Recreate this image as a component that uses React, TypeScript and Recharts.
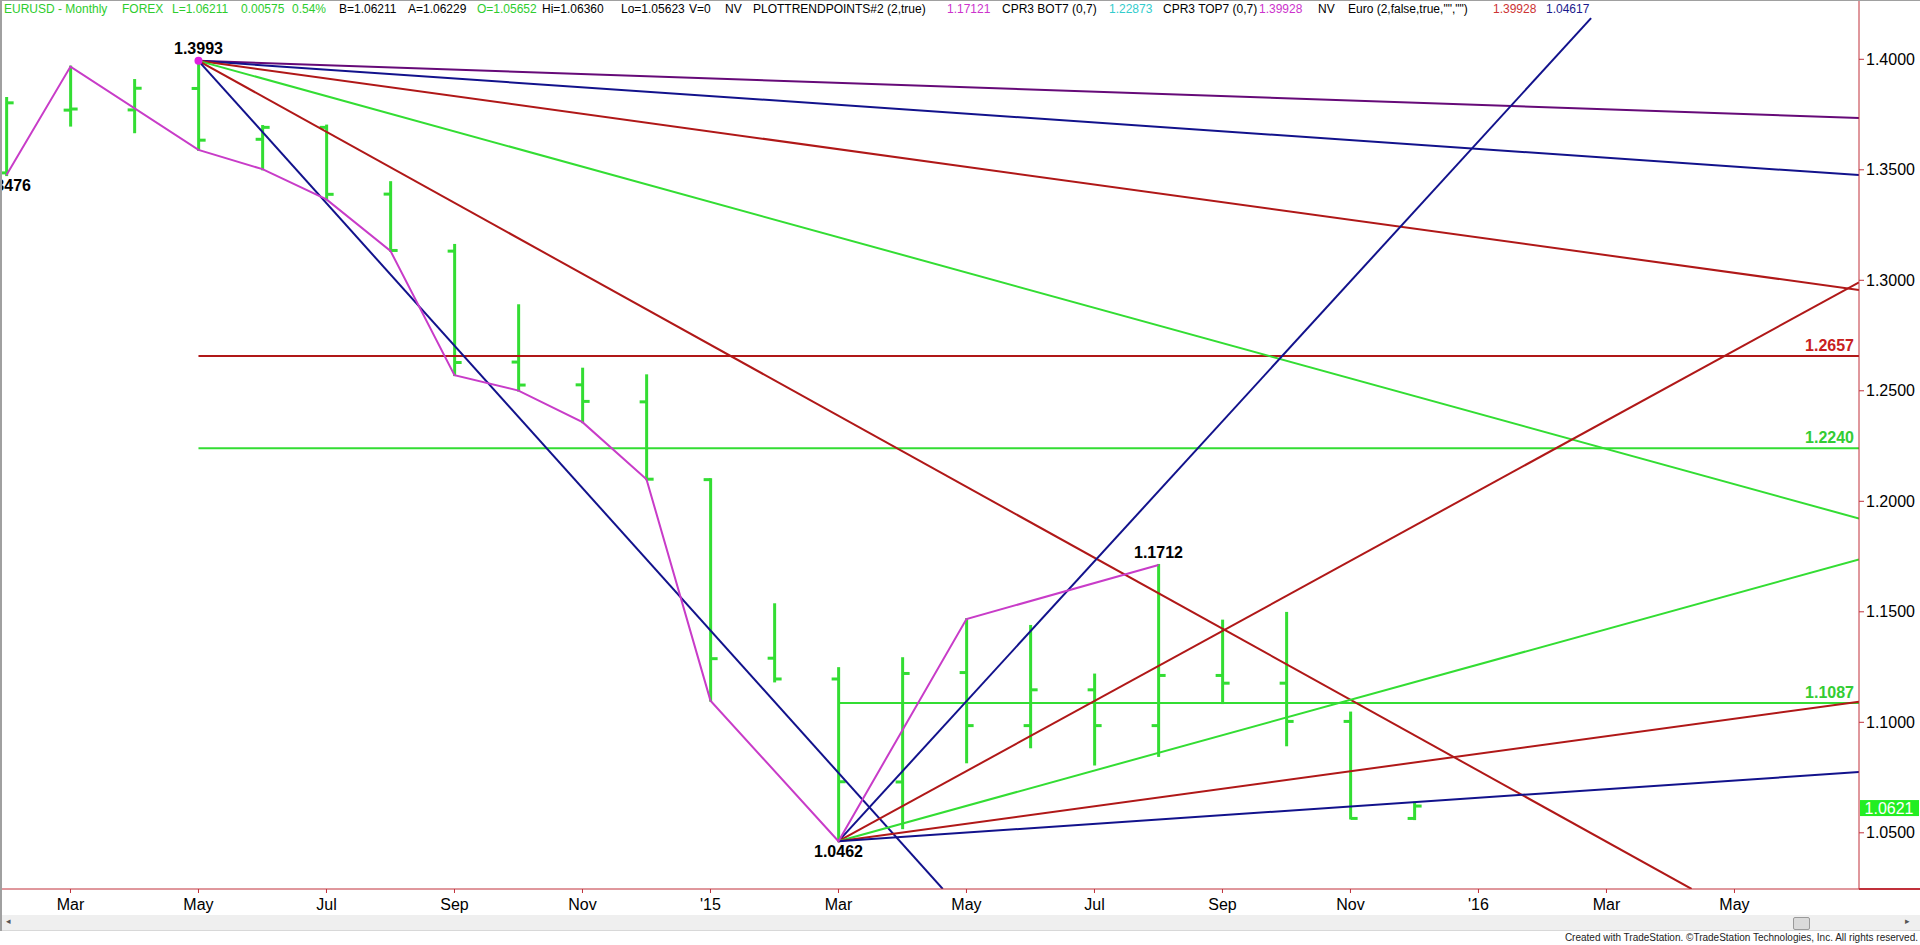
import React from 'react';
import { ComposedChart, Bar, Line, Scatter, XAxis, YAxis, ReferenceLine } from 'recharts';

// month index: 0 = Feb 2014 ... 22 = Dec 2015 (future months run out to ~Jun 2016)
const months = [0, 1, 2, 3, 4, 5, 6, 7, 8, 9, 10, 11, 12, 13, 14, 15, 16, 17, 18, 19, 20, 21, 22];
const opens = [1.3486, 1.3770, 1.3771, 1.3868, 1.3638, 1.3692, 1.3390, 1.3132, 1.2630, 1.2527, 1.2450, 1.2098,
  1.1290, 1.1196, 1.0730, 1.1225, 1.0985, 1.1147, 1.0985, 1.1212, 1.1177, 1.1004, 1.0565];
const highs = [1.3825, 1.3967, 1.3906, 1.3993, 1.3698, 1.3700, 1.3444, 1.3160, 1.2887, 1.2600, 1.2570, 1.2100,
  1.1534, 1.1245, 1.1290, 1.1467, 1.1436, 1.1216, 1.1712, 1.1460, 1.1495, 1.1044, 1.0636];
const lows = [1.3476, 1.3700, 1.3670, 1.3590, 1.3502, 1.3366, 1.3133, 1.2571, 1.2501, 1.2358, 1.2100, 1.1098,
  1.1185, 1.0462, 1.0521, 1.0819, 1.0887, 1.0809, 1.0848, 1.1087, 1.0896, 1.0565, 1.0562];
const closes = [1.3803, 1.3775, 1.3869, 1.3634, 1.3692, 1.3389, 1.3135, 1.2628, 1.2526, 1.2452, 1.2100, 1.1288,
  1.1196, 1.0731, 1.1221, 1.0985, 1.1147, 1.0985, 1.1212, 1.1177, 1.1004, 1.0565, 1.0621];

// swing line (magenta)
const swingX = [0, 1, 3, 4, 5, 6, 7, 8, 9, 10, 11, 13, 15, 18];
const swingV = [1.3476, 1.3967, 1.3590, 1.3503, 1.3366, 1.3133, 1.2571, 1.2501, 1.2358, 1.2100, 1.1098, 1.0462, 1.1467, 1.1712];

// trend line fans
const highAnchor = { x: 3, v: 1.3993 };
const lowAnchor = { x: 13, v: 1.0462 };
const fanHighEnds = [
  { x: 28.946, v: 1.3734 },
  { x: 28.946, v: 1.3476 },
  { x: 28.946, v: 1.2956 },
  { x: 28.946, v: 1.1922 },
  { x: 26.33, v: 1.0246 },
  { x: 14.63, v: 1.0246 },
];
const fanLowEnds = [
  { x: 24.76, v: 1.4186 },
  { x: 28.946, v: 1.2991 },
  { x: 28.946, v: 1.1737 },
  { x: 28.946, v: 1.1093 },
  { x: 28.946, v: 1.0775 },
];

// horizontal levels
const levelValues = [1.2657, 1.2240, 1.1087];
const levelStarts = [3, 3, 13];
const levelEnd = 28.946;

const pivotsAbove = [{ x: 3, v: 1.3993, text: '1.3993' }, { x: 18, v: 1.1712, text: '1.1712' }];
const pivotsBelow = [{ x: 0, v: 1.3476, text: '1.3476' }, { x: 13, v: 1.0462, text: '1.0462' }];
const pivotDot = [{ x: 3, v: 1.3993 }];

const lastPrice = 1.0621;

const xTicks = [1, 3, 5, 7, 9, 11, 13, 15, 17, 19, 21, 23, 25, 27];
const xLabels = ['Mar', 'May', 'Jul', 'Sep', 'Nov', "'15", 'Mar', 'May', 'Jul', 'Sep', 'Nov', "'16", 'Mar', 'May'];
const yTicks = [1.05, 1.1, 1.15, 1.2, 1.25, 1.3, 1.35, 1.4];

const GREEN = '#33DD33';
const RED = '#B01818';
const NAVY = '#12128C';
const PURPLE = '#660A78';
const MAGENTA = '#C83CC8';
const AXIS_RED = '#C0303A';
const FONT = 'Arial, "Liberation Sans", sans-serif';

const fanHighColors = [PURPLE, NAVY, RED, GREEN, RED, NAVY];
const fanLowColors = [NAVY, RED, GREEN, RED, NAVY];
const levelColors = [RED, GREEN, GREEN];
const levelTextColors = ['#C82020', '#33CC33', '#33CC33'];

const bars = months.map((m, i) => ({
  x: m, open: opens[i], high: highs[i], low: lows[i], close: closes[i], range: [lows[i], highs[i]],
}));
const swing = swingX.map((x, i) => ({ x, v: swingV[i] }));

const HEADER: { left: number; text: string; color: string }[] = [
  { left: 4, text: 'EURUSD - Monthly', color: '#2ECC2E' },
  { left: 122, text: 'FOREX', color: '#2ECC2E' },
  { left: 172, text: 'L=1.06211', color: '#2ECC2E' },
  { left: 241, text: '0.00575', color: '#2ECC2E' },
  { left: 292, text: '0.54%', color: '#2ECC2E' },
  { left: 339, text: 'B=1.06211', color: '#000' },
  { left: 408, text: 'A=1.06229', color: '#000' },
  { left: 477, text: 'O=1.05652', color: '#2ECC2E' },
  { left: 542, text: 'Hi=1.06360', color: '#000' },
  { left: 621, text: 'Lo=1.05623', color: '#000' },
  { left: 689, text: 'V=0', color: '#000' },
  { left: 725, text: 'NV', color: '#000' },
  { left: 753, text: 'PLOTTRENDPOINTS#2 (2,true)', color: '#000' },
  { left: 947, text: '1.17121', color: '#CC33CC' },
  { left: 1002, text: 'CPR3 BOT7 (0,7)', color: '#000' },
  { left: 1109, text: '1.22873', color: '#33CCCC' },
  { left: 1163, text: 'CPR3 TOP7 (0,7)', color: '#000' },
  { left: 1259, text: '1.39928', color: '#CC33CC' },
  { left: 1318, text: 'NV', color: '#000' },
  { left: 1348, text: 'Euro (2,false,true,"","")', color: '#000' },
  { left: 1493, text: '1.39928', color: '#CC3333' },
  { left: 1546, text: '1.04617', color: '#1A1A8C' },
];

function OhlcShape(props: any) {
  const { x, y, width, height, payload } = props;
  if (x == null || !payload) return null;
  const cx = x + width / 2;
  const top = Math.min(y, y + height);
  const h = Math.abs(height);
  const span = payload.high - payload.low || 1;
  const yOf = (v: number) => top + ((payload.high - v) / span) * h;
  return (
    <g>
      <line x1={cx} x2={cx} y1={top - 1} y2={top + h + 1} stroke={GREEN} strokeWidth={3} />
      <line x1={cx - 7} x2={cx} y1={yOf(payload.open)} y2={yOf(payload.open)} stroke={GREEN} strokeWidth={3} />
      <line x1={cx} x2={cx + 7} y1={yOf(payload.close)} y2={yOf(payload.close)} stroke={GREEN} strokeWidth={3} />
    </g>
  );
}

function LabelAbove(p: any) {
  return (
    <text x={p.cx} y={p.cy - 7} textAnchor="middle" fontFamily={FONT} fontWeight="bold" fontSize={16} fill="#000">
      {p.payload.text}
    </text>
  );
}

function LabelBelow(p: any) {
  return (
    <text x={p.cx} y={p.cy + 16} textAnchor="middle" fontFamily={FONT} fontWeight="bold" fontSize={16} fill="#000">
      {p.payload.text}
    </text>
  );
}

function PivotDot(p: any) {
  return <circle cx={p.cx} cy={p.cy} r={4} fill="#E020E0" />;
}

function PriceTag(props: any) {
  const vb = props.viewBox;
  if (!vb) return null;
  const x = vb.x + vb.width + 1;
  return (
    <g>
      <rect x={x} y={vb.y - 6} width={59} height={16} fill="#22EE22" />
      <text x={x + 29} y={vb.y + 7.5} textAnchor="middle" fontFamily={FONT} fontSize={16} fill="#fff">
        {lastPrice.toFixed(4)}
      </text>
    </g>
  );
}

function makeLevelLabel(text: string, color: string) {
  return function LevelLabel(props: any) {
    const vb = props.viewBox;
    if (!vb) return null;
    return (
      <text x={vb.x + vb.width - 5} y={vb.y - 5} textAnchor="end" fontFamily={FONT} fontWeight="bold"
        fontSize={16} fill={color}>
        {text}
      </text>
    );
  };
}

export default function App() {
  return (
    <div style={{ position: 'relative', width: 1920, height: 945, overflow: 'hidden', background: '#fff', fontFamily: FONT }}>
      <style>{'body{margin:0;background:#fff}'}</style>

      <ComposedChart width={1920} height={945} data={bars} margin={{ top: 0, right: 0, bottom: 0, left: 2 }}>
        <XAxis
          dataKey="x" type="number" domain={[-0.07, 28.946]} allowDataOverflow ticks={xTicks}
          tickFormatter={(v: number) => xLabels[xTicks.indexOf(v)] ?? ''}
          height={56} stroke={AXIS_RED} tickSize={4} tickMargin={6}
          tick={{ fill: '#000', fontSize: 16, fontFamily: FONT }}
          interval={0}
        />
        <YAxis
          orientation="right" type="number" domain={[1.02457, 1.42683]} allowDataOverflow ticks={yTicks}
          tickFormatter={(v: number) => v.toFixed(4)} width={61} stroke={AXIS_RED} tickSize={5} tickMargin={2}
          tick={{ fill: '#000', fontSize: 16, fontFamily: FONT }}
          interval={0}
        />

        <Bar dataKey="range" barSize={10} shape={<OhlcShape />} isAnimationActive={false} />

        {levelValues.map((v, i) => (
          <Line key={`lv${i}`} data={[{ x: levelStarts[i], v }, { x: levelEnd, v }]} dataKey="v" stroke={levelColors[i]}
            strokeWidth={2} dot={false} isAnimationActive={false} type="linear" />
        ))}

        {fanHighEnds.map((e, i) => (
          <Line key={`fh${i}`} data={[highAnchor, e]} dataKey="v" stroke={fanHighColors[i]} strokeWidth={2}
            dot={false} isAnimationActive={false} type="linear" />
        ))}
        {fanLowEnds.map((e, i) => (
          <Line key={`fl${i}`} data={[lowAnchor, e]} dataKey="v" stroke={fanLowColors[i]} strokeWidth={2}
            dot={false} isAnimationActive={false} type="linear" />
        ))}

        <Line data={swing} dataKey="v" stroke={MAGENTA} strokeWidth={2} dot={false} isAnimationActive={false} type="linear" />

        {levelValues.map((v, i) => (
          <ReferenceLine key={`ll${i}`} segment={[{ x: levelStarts[i], y: v }, { x: levelEnd, y: v }]} stroke="none"
            label={makeLevelLabel(v.toFixed(4), levelTextColors[i])} />
        ))}
        <ReferenceLine y={lastPrice} stroke="none" label={PriceTag} />

        <Scatter data={pivotDot} dataKey="v" shape={<PivotDot />} isAnimationActive={false} />
        <Scatter data={pivotsAbove} dataKey="v" shape={<LabelAbove />} isAnimationActive={false} />
        <Scatter data={pivotsBelow} dataKey="v" shape={<LabelBelow />} isAnimationActive={false} />
      </ComposedChart>

      {/* header */}
      {HEADER.map((h) => (
        <span key={h.left} style={{ position: 'absolute', left: h.left, top: 2, fontSize: 12, lineHeight: '15px',
          color: h.color, whiteSpace: 'nowrap' }}>
          {h.text}
        </span>
      ))}

      {/* frame bits */}
      <div style={{ position: 'absolute', left: 0, top: 0, width: 1920, height: 1, background: '#A0A0A0' }} />
      <div style={{ position: 'absolute', left: 0, top: 0, width: 2, height: 931, background: '#A0A0A0' }} />
      <div style={{ position: 'absolute', left: 1859, top: 888, width: 61, height: 2, background: AXIS_RED }} />

      {/* scrollbar */}
      <div style={{ position: 'absolute', left: 2, top: 915, width: 1918, height: 15, background: '#EFEFEF',
        borderBottom: '1px solid #D8D8D8' }} />
      <div style={{ position: 'absolute', left: 6, top: 916, fontSize: 9, color: '#555' }}>◂</div>
      <div style={{ position: 'absolute', left: 1905, top: 916, fontSize: 9, color: '#555' }}>▸</div>
      <div style={{ position: 'absolute', left: 1793, top: 917, width: 15, height: 11, background: '#DADADA',
        border: '1px solid #9A9A9A', borderRadius: 2 }} />

      <div style={{ position: 'absolute', right: 2, top: 932, fontSize: 10, lineHeight: '12px', color: '#222',
        whiteSpace: 'nowrap' }}>
        Created with TradeStation. ©TradeStation Technologies, Inc. All rights reserved.
      </div>
    </div>
  );
}
